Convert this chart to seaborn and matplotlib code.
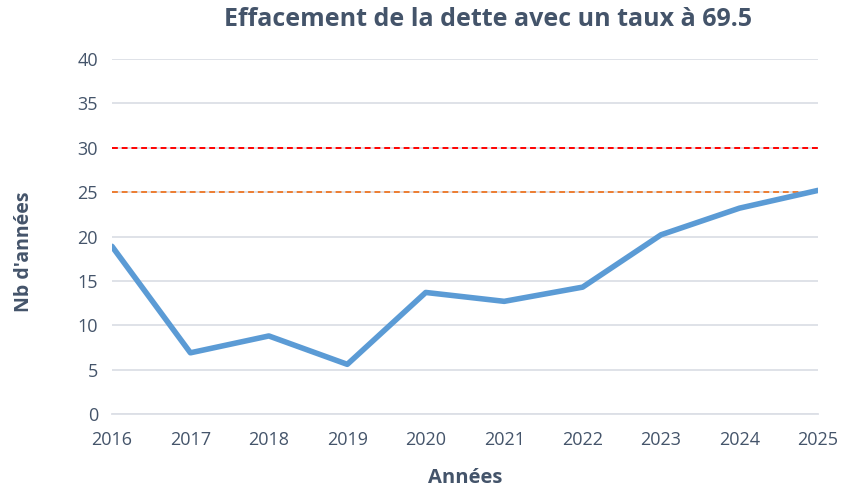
import matplotlib
matplotlib.use("Agg")
import matplotlib.pyplot as plt
import pandas as pd
import seaborn as sns

years = [2016, 2017, 2018, 2019, 2020, 2021, 2022, 2023, 2024, 2025]
nb_annees = [18.9, 6.9, 8.8, 5.6, 13.7, 12.7, 14.3, 20.2, 23.2, 25.2]
seuil_rouge = 30
seuil_orange = 25

df = pd.DataFrame({"Années": years, "Nb d'années": nb_annees})

sns.set_style("white")
plt.rcParams['font.family'] = ['Open Sans', 'DejaVu Sans']
text_col = "#44546A"

fig = plt.figure(figsize=(8.45, 4.9), dpi=100)
ax = fig.add_axes([0.1325, 0.155, 0.8355, 0.7245])

ax.axhline(seuil_rouge, color="#FF0000", lw=1.4, ls=(0, (3, 2)), zorder=2)
ax.axhline(seuil_orange, color="#ED7D31", lw=1.4, ls=(0, (3, 2)), zorder=2)
sns.lineplot(data=df, x="Années", y="Nb d'années", ax=ax, color="#5B9BD5",
             lw=4, zorder=3)

ax.set_xlim(2016, 2025)
ax.set_ylim(0, 40)
ax.set_xticks(years)
ax.set_yticks(range(0, 41, 5))
ax.yaxis.grid(True, color="#DCDFE6", lw=1.3)
ax.set_axisbelow(True)
for s in ["top", "right", "left"]:
    ax.spines[s].set_visible(False)
ax.spines["bottom"].set_color("#DCDFE6")
ax.spines["bottom"].set_linewidth(1.3)
ax.tick_params(axis="x", length=6, width=1.3, color="#DCDFE6", direction="out",
               labelsize=13, labelcolor=text_col, pad=6)
ax.tick_params(axis="y", length=0, labelsize=13, labelcolor=text_col, pad=10)

ax.set_xlabel("Années", fontsize=14.5, fontweight="bold", color=text_col, labelpad=14)
ax.set_ylabel("Nb d'années", fontsize=14, fontweight="bold", color=text_col)
ax.yaxis.set_label_coords(-0.11, 0.456)
fig.suptitle("Effacement de la dette avec un taux à 69.5", x=0.578, y=0.985,
             fontsize=18, fontweight="bold", color=text_col)

fig.savefig("out.png", dpi=100)
